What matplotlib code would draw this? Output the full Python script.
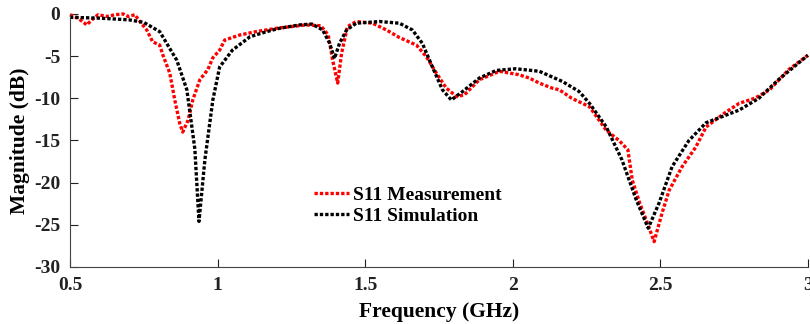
import matplotlib
matplotlib.use('Agg')
import matplotlib.pyplot as plt

# S11 measurement (red)
meas_f = [0.5, 0.527, 0.557, 0.574, 0.595, 0.625, 0.652, 0.68, 0.697, 0.72, 0.737, 0.76,
          0.78, 0.804, 0.815, 0.838, 0.855, 0.872, 0.882, 0.9, 0.916, 0.94, 0.967, 0.984,
          1.007, 1.024, 1.075, 1.13, 1.2, 1.25, 1.3, 1.35, 1.375, 1.39, 1.407, 1.42, 1.44,
          1.47, 1.525, 1.572, 1.616, 1.674, 1.708, 1.741, 1.775, 1.81, 1.836, 1.887, 1.955,
          2.02, 2.056, 2.09, 2.134, 2.158, 2.2, 2.26, 2.317, 2.36, 2.39, 2.405, 2.43, 2.452,
          2.479, 2.506, 2.53, 2.574, 2.62, 2.655, 2.72, 2.767, 2.82, 2.87, 2.935, 3.0]
meas_db = [-0.1, -0.5, -1.3, -0.7, -0.1, -0.3, -0.1, 0.0, -0.3, -0.1, -0.9, -1.9,
           -3.3, -3.7, -4.9, -7.0, -10.2, -13.0, -14.0, -12.6, -10.2, -7.8, -6.6, -5.2,
           -4.3, -3.1, -2.5, -2.1, -1.7, -1.5, -1.3, -1.4, -2.5, -5.5, -8.2, -4.7, -1.5,
           -0.9, -1.1, -1.9, -2.8, -3.7, -5.1, -7.0, -8.8, -9.8, -9.6, -7.8, -6.8,
           -7.2, -7.6, -8.2, -8.8, -9.0, -10.0, -11.0, -13.8, -15.0, -16.1, -19.7, -22.4, -24.4,
           -27.0, -23.6, -20.9, -18.1, -15.8, -13.4, -11.7, -10.6, -10.0, -9.0, -6.6, -4.9]

# S11 simulation (black)
sim_f = [0.5, 0.6, 0.7, 0.75, 0.804, 0.862, 0.896, 0.923, 0.937, 0.957, 0.984, 1.007,
         1.05, 1.11, 1.166, 1.21, 1.278, 1.32, 1.356, 1.38, 1.396, 1.413, 1.437, 1.47,
         1.549, 1.616, 1.66, 1.694, 1.728, 1.762, 1.792, 1.83, 1.887, 1.944, 2.01, 2.09,
         2.168, 2.225, 2.26, 2.317, 2.37, 2.418, 2.459, 2.496, 2.54, 2.597, 2.655, 2.767,
         2.834, 2.9, 3.0]
sim_db = [-0.4, -0.5, -0.7, -1.0, -2.1, -5.5, -9.0, -16.0, -24.6, -17.3, -10.2, -6.3,
          -4.3, -2.7, -2.1, -1.7, -1.3, -1.2, -1.9, -3.5, -5.3, -3.5, -1.9, -1.1,
          -0.9, -1.1, -1.9, -3.5, -6.3, -9.0, -10.2, -9.2, -7.6, -6.7, -6.5, -6.8,
          -8.0, -9.2, -10.6, -13.4, -17.3, -22.0, -25.4, -22.4, -18.1, -15.0, -12.9, -11.4,
          -10.0, -7.8, -4.9]

plt.rcParams['font.family'] = ['Liberation Serif', 'DejaVu Serif']
plt.rcParams['font.weight'] = 'bold'
plt.rcParams['axes.unicode_minus'] = False

fig = plt.figure(figsize=(8.1, 3.24), dpi=100)
ax = fig.add_axes([0.0864, 0.176, 0.911, 0.781])

ax.plot(meas_f, meas_db, color='red', lw=2.4, ls=(0, (1.0, 0.6)), label='S11 Measurement', clip_on=False)
ax.plot(sim_f, sim_db, color='black', lw=2.4, ls=(0, (1.0, 0.6)), label='S11 Simulation', clip_on=False)

ax.set_xlim(0.5, 3)
ax.set_ylim(-30, 0)
ax.set_xticks([0.5, 1, 1.5, 2, 2.5, 3])
ax.set_xticklabels(['0.5', '1', '1.5', '2', '2.5', '3'])
ax.set_yticks([-30, -25, -20, -15, -10, -5, 0])
ax.spines['top'].set_visible(False)
ax.spines['right'].set_visible(False)
for s in ('left', 'bottom'):
    ax.spines[s].set_color('#444444')
ax.tick_params(direction='in', length=6, labelsize=14, colors='#222222', pad=7)
ax.set_xlabel('Frequency (GHz)', fontsize=15.5, fontweight='bold', labelpad=6)
ax.set_ylabel('Magnitude (dB)', fontsize=15.5, fontweight='bold', labelpad=3)

ax.legend(loc='upper left', bbox_to_anchor=(0.317, 0.356), frameon=False, fontsize=14,
          handlelength=1.8, handletextpad=0.2, labelspacing=0.15, borderpad=0)

fig.savefig('out.png', dpi=100)
